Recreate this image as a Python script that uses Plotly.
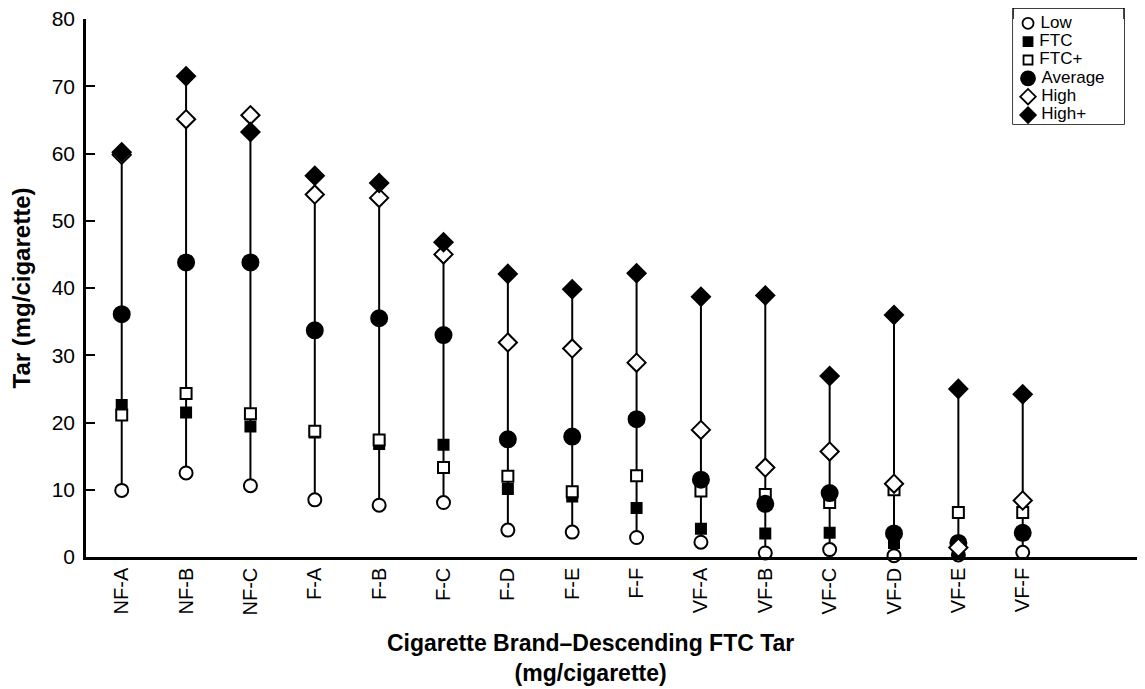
import plotly.graph_objects as go

brands = ["NF-A", "NF-B", "NF-C", "F-A", "F-B", "F-C", "F-D", "F-E", "F-F",
          "VF-A", "VF-B", "VF-C", "VF-D", "VF-E", "VF-F"]
low = [9.9, 12.5, 10.6, 8.5, 7.7, 8.1, 4.0, 3.7, 2.9, 2.2, 0.6, 1.1, 0.2, 0.3, 0.7]
ftc = [22.6, 21.5, 19.4, 18.5, 16.8, 16.7, 10.1, 9.0, 7.3, 4.2, 3.5, 3.6, 2.1, 0.6, 3.4]
ftc_plus = [21.1, 24.3, 21.3, 18.7, 17.4, 13.3, 12.0, 9.7, 12.1, 9.8, 9.3, 8.1, 10.0, 6.6, 6.6]
average = [36.1, 43.8, 43.8, 33.7, 35.5, 33.0, 17.5, 17.9, 20.5, 11.5, 7.9, 9.5, 3.5, 2.1, 3.6]
high = [59.8, 65.1, 65.7, 53.9, 53.4, 45.0, 31.9, 31.0, 28.9, 18.9, 13.3, 15.7, 10.9, 1.4, 8.4]
high_plus = [60.2, 71.5, 63.2, 56.7, 55.6, 46.8, 42.1, 39.8, 42.2, 38.7, 38.9, 26.9, 36.0, 25.0, 24.2]

series_names = ["Low", "FTC", "FTC+", "Average", "High", "High+"]
series_values = [low, ftc, ftc_plus, average, high, high_plus]

# styles (symbol, fill, plot size, key size)
styles = [
    ("circle", "white", 13, 11),
    ("square", "black", 10, 9),
    ("square", "white", 11, 9),
    ("circle", "black", 16, 14),
    ("diamond", "white", 14, 12),
    ("diamond", "black", 14, 12),
]

FONT = "Liberation Sans, Arial, Helvetica, sans-serif"

# vertical range lines, min to max per brand
lx, ly = [], []
for i, b in enumerate(brands):
    vals = [s[i] for s in series_values]
    lx += [b, b, None]
    ly += [min(vals), max(vals), None]

fig = go.Figure()
fig.add_trace(go.Scatter(x=lx, y=ly, mode="lines", line=dict(color="black", width=2),
                         showlegend=False, hoverinfo="skip", cliponaxis=False))
for name, vals, (sym, fill, size, _) in zip(series_names, series_values, styles):
    fig.add_trace(go.Scatter(
        x=brands, y=vals, mode="markers", name=name, cliponaxis=False,
        showlegend=False,
        marker=dict(symbol=sym, color=fill, size=size,
                    line=dict(color="black", width=2))))

# key (legend) drawn in an inset axis
for i, (name, (sym, fill, _, ksize)) in enumerate(zip(series_names, styles)):
    fig.add_trace(go.Scatter(
        x=[0], y=[i], mode="markers+text", text=[name],
        texttemplate=" %{text}",
        textposition="middle right", xaxis="x2", yaxis="y2",
        cliponaxis=False, showlegend=False, hoverinfo="skip",
        textfont=dict(size=17, family=FONT, color="black"),
        marker=dict(symbol=sym, color=fill, size=ksize,
                    line=dict(color="black", width=1.8))))

KX0, KX1 = 0.8754, 0.9802
KY0, KY1 = 0.8048, 1.0

fig.update_layout(
    width=1137, height=681,
    margin=dict(l=78, r=0, t=11, b=132, autoexpand=False),
    paper_bgcolor="white", plot_bgcolor="white",
    font=dict(family=FONT, color="black"),
    showlegend=False,
    xaxis=dict(type="category", categoryorder="array", categoryarray=brands,
               range=[-0.555, 15.9], showgrid=False, zeroline=False,
               showline=True, linecolor="black", linewidth=2.5,
               ticks="", tickangle=-90, tickfont=dict(size=20, family=FONT)),
    yaxis=dict(range=[0, 80], dtick=10, showgrid=False, zeroline=False,
               showline=True, linecolor="black", linewidth=2.5,
               ticks="inside", ticklen=9, tickwidth=2, tickcolor="black",
               tickfont=dict(size=21, family=FONT), ticklabelstandoff=4,
               ticklabeloverflow="allow",
               title=dict(text="<b>Tar (mg/cigarette)</b>",
                          font=dict(size=24, family=FONT), standoff=18)),
    xaxis2=dict(domain=[KX0, KX1], range=[-0.135, 0.865], visible=False,
                anchor="y2", fixedrange=True),
    yaxis2=dict(domain=[KY0, KY1], range=[5.488, -0.234], visible=False,
                anchor="x2", fixedrange=True),
    shapes=[dict(type="rect", xref="paper", yref="paper",
                 x0=KX0, x1=KX1, y0=KY0, y1=1.0204,
                 line=dict(color="black", width=1.5), fillcolor="rgba(0,0,0,0)",
                 layer="below")],
    annotations=[dict(
        text="<b>Cigarette Brand–Descending FTC Tar<br>(mg/cigarette)</b>",
        xref="paper", yref="paper", x=0.476, y=-0.187,
        xanchor="center", yanchor="middle", showarrow=False,
        font=dict(size=23, family=FONT))],
)

fig.write_html("out.html")
